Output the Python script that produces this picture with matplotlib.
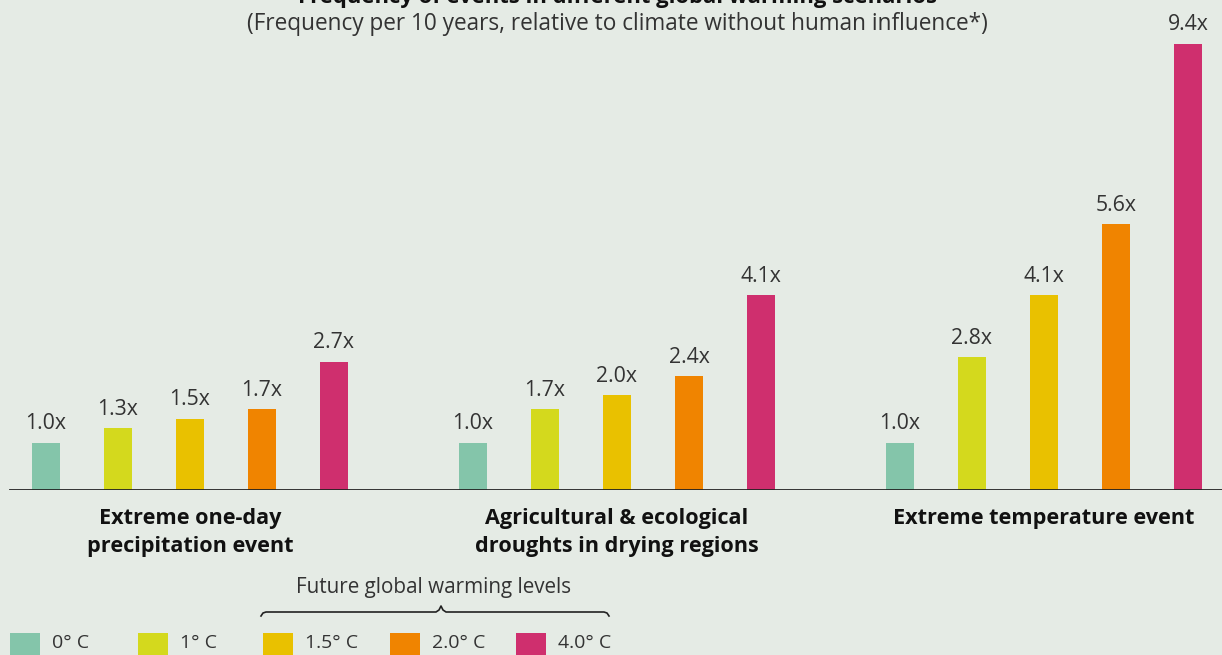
import matplotlib
matplotlib.use("Agg")
import matplotlib.pyplot as plt
from matplotlib.patches import Rectangle
from matplotlib.lines import Line2D

# ==============================
# DATOS
# ==============================
events = ["Extreme one-day\nprecipitation event",
          "Agricultural & ecological\ndroughts in drying regions",
          "Extreme temperature event"]
levels = ["0° C", "1° C", "1.5° C", "2.0° C", "4.0° C"]
precip = [1.0, 1.3, 1.5, 1.7, 2.7]
drought = [1.0, 1.7, 2.0, 2.4, 4.1]
temperature = [1.0, 2.8, 4.1, 5.6, 9.4]
colors = ["#84c5aa", "#d4d91d", "#e9c100", "#f08400", "#cf2f6e"]

title = "Frequency of events in different global warming scenarios"
subtitle = "(Frequency per 10 years, relative to climate without human influence*)"
bracket_label = "Future global warming levels"

# ==============================
# ESTILO
# ==============================
W, H = 1222, 655
bg = "#e5ebe5"
txt = "#333333"
plt.rcParams["font.family"] = ["Open Sans", "DejaVu Sans"]

def px(x):
    return x / W

def py(y):
    return 1 - y / H

fig = plt.figure(figsize=(W / 100, H / 100), dpi=100, facecolor=bg)
ax = fig.add_axes([0, py(490), 1, 490 / H])
ax.set_facecolor(bg)
ax.set_xlim((0 - 46) / 72, (W - 46) / 72)
ax.set_ylim(0, 490 / 47.5)
ax.axis("off")

group_gap = 5.93
bar_w = 0.40
series = [precip, drought, temperature]

for g, vals in enumerate(series):
    xs = [g * group_gap + i for i in range(len(vals))]
    ax.bar(xs, vals, width=bar_w, color=colors, zorder=2)
    for x, v in zip(xs, vals):
        ax.annotate(f"{v:.1f}x", (x, v), xytext=(0, 6), textcoords="offset points",
                    ha="center", va="bottom", fontsize=15.3, color=txt)
    # nombre del grupo (la primera línea siempre a la misma altura)
    cx = g * group_gap + 2
    fig.text(px(46 + 72 * cx), py(508), events[g], ha="center", va="top",
             fontsize=15.6, fontweight="bold", color="#111111", linespacing=1.45)
ax.axhline(0, xmin=px(10), xmax=1, color="#222222", lw=2, zorder=3)

# ==============================
# TÍTULOS
# ==============================
fig.text(px(617), py(3), title, ha="center", va="baseline",
         fontsize=15.8, fontweight="bold", color="#111111")
fig.text(px(617), py(24), subtitle, ha="center", va="center",
         fontsize=16.3, color=txt)

# ==============================
# LEYENDA
# ==============================
leg_x = [10, 138, 263, 390, 516]
for x, lab, c in zip(leg_x, levels, colors):
    fig.add_artist(Rectangle((px(x), py(656)), px(30), 23 / H,
                             transform=fig.transFigure, color=c, lw=0))
    fig.text(px(x + 42), py(643), lab, ha="left", va="center",
             fontsize=14, color=txt)

# llave sobre los niveles futuros
bx = [261, 263, 266, 436, 439, 441, 443, 446, 604, 607, 609]
by = [616, 613, 612, 612, 610, 606, 610, 612, 612, 613, 616]
fig.add_artist(Line2D([px(v) for v in bx], [py(v) for v in by],
                      transform=fig.transFigure, color="#222222", lw=1.2))
fig.text(px(433), py(587), bracket_label, ha="center", va="center",
         fontsize=14.9, color=txt)

fig.savefig("out.png", dpi=100, facecolor=bg)
